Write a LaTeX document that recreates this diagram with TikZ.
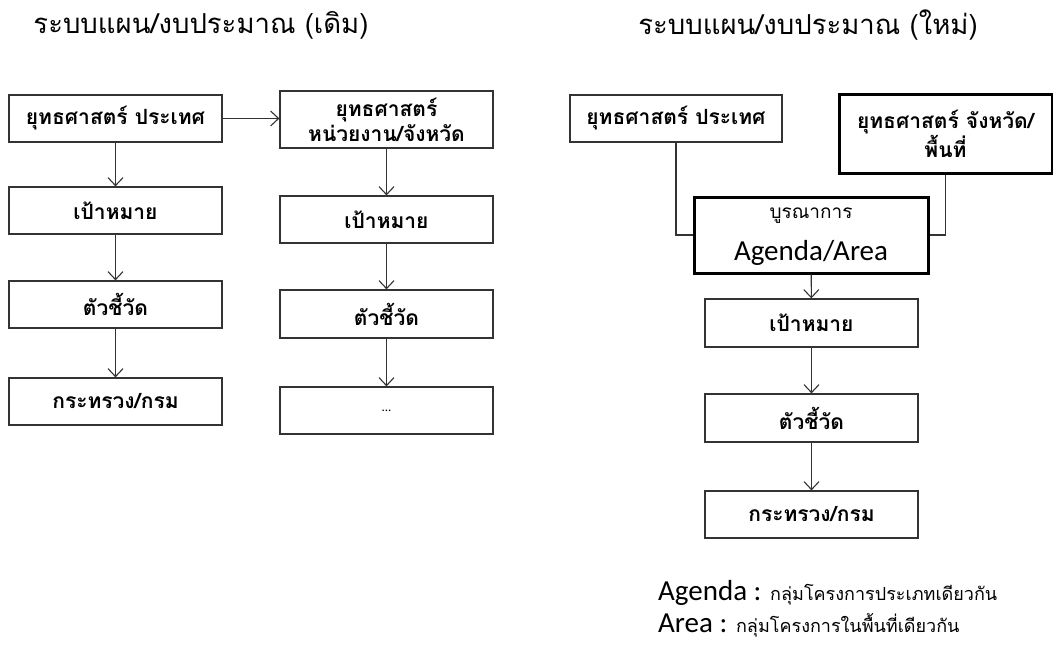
\documentclass[tikz,border=0pt]{standalone}
\usepackage{fontspec}
\usetikzlibrary{arrows.meta}
\newfontfamily\thaifont[Script=Thai]{Loma}
\newfontfamily\calib{Carlito}
\begin{document}
\begin{tikzpicture}[x=1pt,y=-1pt,
  box/.style={draw=black!80,line width=1.2pt,rectangle,inner sep=0pt,minimum width=213pt,minimum height=47pt,align=center,font=\thaifont\bfseries\fontsize{21}{25}\selectfont},
  boldbox/.style={box,draw=black,line width=3pt},
  conn/.style={draw=black!80,line width=1.1pt},
  arr/.style={conn,-{Straight Barb[length=8pt,width=15pt,line width=1.1pt]}},
  title/.style={font=\thaifont\fontsize{27.5}{32}\selectfont}]
\useasboundingbox (0,0) rectangle (1053,646);
% titles
\node[title] (t1) at (201,25) {ระบบแผน/งบประมาณ (เดิม)};
\node[title] (t2) at (808,25) {ระบบแผน/งบประมาณ (ใหม่)};
% left column A
\node[box] (a1) at (115.5,118.5) {ยุทธศาสตร์ ประเทศ};
\node[box] (a2) at (115.5,210.5) {เป้าหมาย};
\node[box] (a3) at (115.5,304.5) {ตัวชี้วัด};
\node[box] (a4) at (115.5,401.5) {กระทรวง/กรม};
% left column B
\node[box,minimum height=57pt] (b1) at (386.5,119.5) {ยุทธศาสตร์\\หน่วยงาน/จังหวัด};
\node[box] (b2) at (386.5,219.5) {เป้าหมาย};
\node[box,minimum height=48pt] (b3) at (386.5,314) {ตัวชี้วัด};
\node[box,font=\calib\fontsize{13}{16}\selectfont] (b4) at (386.5,410.5) {...};
\draw[arr] (a1) -- (a2);
\draw[arr] (a2) -- (a3);
\draw[arr] (a3) -- (a4);
\draw[arr] (a1.east) -- (a1.east -| b1.west);
\draw[arr] (b1) -- (b2);
\draw[arr] (b2) -- (b3);
\draw[arr] (b3) -- (b4);
% right side
\node[box,minimum width=212pt] (r1) at (676,118.5) {ยุทธศาสตร์ ประเทศ};
\node[boldbox,minimum height=79pt] (r2) at (945.5,133.5) {ยุทธศาสตร์ จังหวัด/\\พื้นที่};
\node[boldbox,minimum width=234pt,minimum height=76pt] (ag) at (811,235) {};
\node[font=\thaifont\fontsize{19}{22}\selectfont,inner sep=0pt] (agt) at (811,216) {บูรณาการ};
\node[font=\calib\fontsize{29}{34}\selectfont,inner sep=0pt] (agl) at (811,253) {Agenda/Area};
\node[box,minimum height=48pt] (r3) at (811.5,323) {เป้าหมาย};
\node[box,minimum height=48pt] (r4) at (811.5,418) {ตัวชี้วัด};
\node[box] (r5) at (811.5,514.5) {กระทรวง/กรม};
\draw[conn] (r1.south) |- (ag.west);
\draw[conn] (r2.south) |- (ag.east);
\draw[arr] (ag) -- (r3);
\draw[arr] (r3) -- (r4);
\draw[arr] (r4) -- (r5);
% legend
\node[anchor=base west,inner sep=0pt,font=\calib\fontsize{29}{34}\selectfont] (l1) at (658,600)
  {Agenda : {\thaifont\fontsize{18}{20}\selectfont กลุ่มโครงการประเภทเดียวกัน}};
\node[anchor=base west,inner sep=0pt,font=\calib\fontsize{29}{34}\selectfont] (l2) at (658,632)
  {Area : {\thaifont\fontsize{18}{20}\selectfont กลุ่มโครงการในพื้นที่เดียวกัน}};
\end{tikzpicture}
\end{document}
